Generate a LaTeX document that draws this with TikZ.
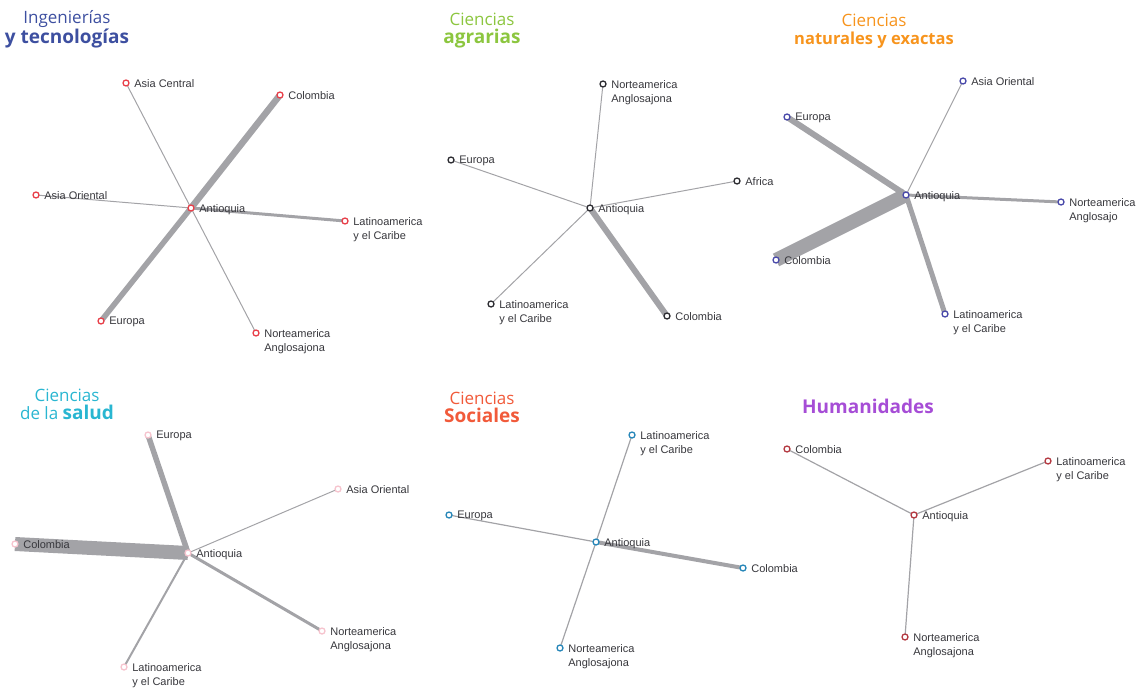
\documentclass[tikz,border=0pt]{standalone}
\usepackage{fontspec}
\setmainfont{Liberation Sans}
\newfontfamily\titlefont{Open Sans}
\usepackage{tikz}
\usetikzlibrary{backgrounds}
\definecolor{edgegray}{RGB}{163,163,167}
\definecolor{labtext}{RGB}{55,55,60}
\definecolor{ingblue}{RGB}{61,79,160}
\definecolor{agrgreen}{RGB}{140,198,63}
\definecolor{natorange}{RGB}{247,148,29}
\definecolor{salcyan}{RGB}{41,182,209}
\definecolor{socred}{RGB}{241,90,58}
\definecolor{humpurple}{RGB}{166,77,214}
\definecolor{mkred}{RGB}{232,64,74}
\definecolor{mkdark}{RGB}{45,45,50}
\definecolor{mkblue}{RGB}{74,74,170}
\definecolor{mkpink}{RGB}{246,196,206}
\definecolor{mkteal}{RGB}{40,135,185}
\definecolor{mkwine}{RGB}{180,58,66}
\newcommand{\bigbf}[2][19]{{\fontsize{#1}{18}\selectfont\bfseries #2}}
\tikzset{
  region/.style={circle, draw=#1, fill=white, line width=1.3pt,
    inner sep=0pt, minimum size=6pt},
  lbl/.style={font=\fontsize{11}{14}\selectfont, text=labtext,
    anchor=north west, align=left, inner sep=0pt, xshift=4.5pt, yshift=4pt},
  title/.style={font=\titlefont\fontsize{17}{18}\selectfont, align=center,
    inner sep=0pt},
  link/.style={draw=edgegray, line width=#1},
  link/.default=1pt
}

\begin{document}
\begin{tikzpicture}[x=1pt, y=-1pt]
  \useasboundingbox (0,0) rectangle (1146,690);

  % Ingenierias y tecnologias
  \node[title, text=ingblue] (t1) at (67,29) {Ingenierías\\\bigbf{y tecnologías}};
  \node[region=mkred, label={[lbl]right:Antioquia}] (ant1) at (191,208) {};
  \node[region=mkred, label={[lbl]right:Asia Central}] (asc1) at (126,83) {};
  \node[region=mkred, label={[lbl]right:Colombia}] (col1) at (280,95) {};
  \node[region=mkred, label={[lbl]right:Asia Oriental}] (aso1) at (36,195) {};
  \node[region=mkred, label={[lbl]right:Latinoamerica\\y el Caribe}] (lat1) at (345,221) {};
  \node[region=mkred, label={[lbl]right:Europa}] (eur1) at (101,321) {};
  \node[region=mkred, label={[lbl]right:Norteamerica\\Anglosajona}] (nor1) at (256,333) {};
  \begin{pgfonlayer}{background}
    \draw[link=6.5pt] (ant1.center) -- (col1.center);
    \draw[link=5.5pt] (ant1.center) -- (eur1.center);
    \draw[link=3pt] (ant1.center) -- (lat1.center);
    \foreach \n in {asc1,aso1,nor1} \draw[link] (ant1.center) -- (\n.center);
  \end{pgfonlayer}

  % Ciencias agrarias
  \node[title, text=agrgreen] (t2) at (482,31) {Ciencias\\\bigbf{agrarias}};
  \node[region=mkdark, label={[lbl]right:Antioquia}] (ant2) at (590,208) {};
  \node[region=mkdark, label={[lbl]right:Norteamerica\\Anglosajona}] (nor2) at (603,84) {};
  \node[region=mkdark, label={[lbl]right:Europa}] (eur2) at (451,160) {};
  \node[region=mkdark, label={[lbl]right:Africa}] (afr2) at (737,181) {};
  \node[region=mkdark, label={[lbl]right:Latinoamerica\\y el Caribe}] (lat2) at (491,304) {};
  \node[region=mkdark, label={[lbl]right:Colombia}] (col2) at (667,316) {};
  \begin{pgfonlayer}{background}
    \draw[link=6pt] (ant2.center) -- (col2.center);
    \foreach \n in {nor2,eur2,afr2,lat2} \draw[link] (ant2.center) -- (\n.center);
  \end{pgfonlayer}

  % Ciencias naturales y exactas
  \node[title, text=natorange] (t3) at (874,31) {Ciencias\\\bigbf[16.5]{naturales y exactas}};
  \node[region=mkblue, label={[lbl]right:Antioquia}] (ant3) at (906,195) {};
  \node[region=mkblue, label={[lbl]right:Asia Oriental}] (aso3) at (963,81) {};
  \node[region=mkblue, label={[lbl]right:Europa}] (eur3) at (787,117) {};
  \node[region=mkblue, label={[lbl]right:Norteamerica\\Anglosajo}] (nor3) at (1061,202) {};
  \node[region=mkblue, label={[lbl]right:Colombia}] (col3) at (776,260) {};
  \node[region=mkblue, label={[lbl]right:Latinoamerica\\y el Caribe}] (lat3) at (945,314) {};
  \begin{pgfonlayer}{background}
    \draw[link=14pt] (ant3.center) -- (col3.center);
    \draw[link=6pt] (ant3.center) -- (eur3.center);
    \draw[link=5pt] (ant3.center) -- (lat3.center);
    \draw[link=3pt] (ant3.center) -- (nor3.center);
    \draw[link] (ant3.center) -- (aso3.center);
  \end{pgfonlayer}

  % Ciencias de la salud
  \node[title, text=salcyan] (t4) at (67,404) {Ciencias\\de la \bigbf{salud}};
  \node[region=mkpink, label={[lbl]right:Antioquia}] (ant4) at (188,553) {};
  \node[region=mkpink, label={[lbl]right:Europa}] (eur4) at (148,435) {};
  \node[region=mkpink, label={[lbl]right:Asia Oriental}] (aso4) at (338,489) {};
  \node[region=mkpink, label={[lbl]right:Colombia}] (col4) at (15,544) {};
  \node[region=mkpink, label={[lbl]right:Norteamerica\\Anglosajona}] (nor4) at (322,631) {};
  \node[region=mkpink, label={[lbl]right:Latinoamerica\\y el Caribe}] (lat4) at (124,667) {};
  \begin{pgfonlayer}{background}
    \draw[link=14pt] (ant4.center) -- (col4.center);
    \draw[link=5.5pt] (ant4.center) -- (eur4.center);
    \draw[link=3pt] (ant4.center) -- (nor4.center);
    \draw[link=2pt] (ant4.center) -- (lat4.center);
    \draw[link] (ant4.center) -- (aso4.center);
  \end{pgfonlayer}

  % Ciencias sociales
  \node[title, text=socred] (t5) at (482,407) {Ciencias\\\bigbf{Sociales}};
  \node[region=mkteal, label={[lbl]right:Antioquia}] (ant5) at (596,542) {};
  \node[region=mkteal, label={[lbl]right:Latinoamerica\\y el Caribe}] (lat5) at (632,435) {};
  \node[region=mkteal, label={[lbl]right:Europa}] (eur5) at (449,515) {};
  \node[region=mkteal, label={[lbl]right:Colombia}] (col5) at (743,568) {};
  \node[region=mkteal, label={[lbl]right:Norteamerica\\Anglosajona}] (nor5) at (560,648) {};
  \begin{pgfonlayer}{background}
    \draw[link=4pt] (ant5.center) -- (col5.center);
    \foreach \n in {lat5,eur5,nor5} \draw[link=1.2pt] (ant5.center) -- (\n.center);
  \end{pgfonlayer}

  % Humanidades
  \node[title, text=humpurple] (t6) at (868,406) {\bigbf{Humanidades}};
  \node[region=mkwine, label={[lbl]right:Antioquia}] (ant6) at (914,515) {};
  \node[region=mkwine, label={[lbl]right:Colombia}] (col6) at (787,449) {};
  \node[region=mkwine, label={[lbl]right:Latinoamerica\\y el Caribe}] (lat6) at (1048,461) {};
  \node[region=mkwine, label={[lbl]right:Norteamerica\\Anglosajona}] (nor6) at (905,637) {};
  \begin{pgfonlayer}{background}
    \foreach \n in {col6,lat6,nor6} \draw[link=1.2pt] (ant6.center) -- (\n.center);
  \end{pgfonlayer}
\end{tikzpicture}
\end{document}
